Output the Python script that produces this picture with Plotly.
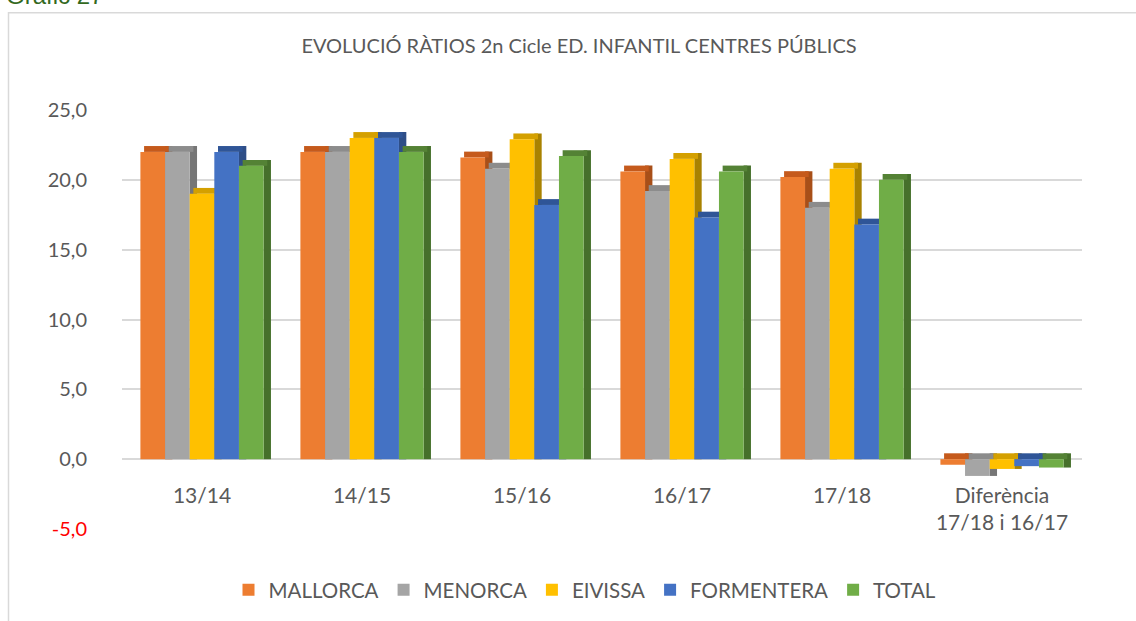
import plotly.graph_objects as go

categories = ["13/14", "14/15", "15/16", "16/17", "17/18", "Diferència<br>17/18 i 16/17"]
series_names = ["MALLORCA", "MENORCA", "EIVISSA", "FORMENTERA", "TOTAL"]
mallorca = [22.0, 22.0, 21.6, 20.6, 20.2, -0.4]
menorca = [22.0, 22.0, 20.8, 19.2, 18.0, -1.2]
eivissa = [19.0, 23.0, 22.9, 21.5, 20.8, -0.7]
formentera = [22.0, 23.0, 18.2, 17.3, 16.8, -0.5]
total = [21.0, 22.0, 21.7, 20.6, 20.0, -0.6]
tick_vals = [-5, 0, 5, 10, 15, 20, 25]
tick_text = ['<span style="color:#FF0000">-5,0</span>', "0,0", "5,0", "10,0", "15,0", "20,0", "25,0"]

series_values = [mallorca, menorca, eivissa, formentera, total]
front_colors = ["#ED7D31", "#A5A5A5", "#FFC000", "#4472C4", "#70AD47"]
top_colors = ["#C55A1C", "#8C8C8C", "#D4A000", "#2F5597", "#548235"]
side_colors = ["#A84F18", "#767676", "#A98200", "#2E4E87", "#46702B"]

W, H = 1136, 621
ml, mr, mt, mb = 122, 54, 110, 91
pw, ph = W - ml - mr, H - mt - mb

bar_w = 0.154
start = -0.385
dx = 0.046   # depth in category units
dy = 0.42    # depth in value units

fig = go.Figure()
for i, (name, vals) in enumerate(zip(series_names, series_values)):
    off = start + i * bar_w
    lows = [min(v, 0) for v in vals]
    highs = [max(v, 0) for v in vals]
    # side face
    fig.add_trace(go.Bar(
        x=categories, y=[h - l + dy for h, l in zip(highs, lows)], base=lows,
        offset=off + bar_w, width=dx, marker=dict(color=side_colors[i], line=dict(width=0)),
        showlegend=False, hoverinfo="skip"))
    # top face
    fig.add_trace(go.Bar(
        x=categories, y=[dy] * len(vals), base=highs,
        offset=off + dx / 2, width=bar_w, marker=dict(color=top_colors[i], line=dict(width=0)),
        showlegend=False, hoverinfo="skip"))
    # front face
    fig.add_trace(go.Bar(
        x=categories, y=[h - l for h, l in zip(highs, lows)], base=lows,
        offset=off, width=bar_w, name=name,
        marker=dict(color=front_colors[i], line=dict(width=0))))

def px_to_paper_x(p):
    return (p - ml) / pw

def px_to_paper_y(p):
    return (H - mb - p) / ph

fig.update_layout(
    width=W, height=H,
    margin=dict(l=ml, r=mr, t=mt, b=mb),
    barmode="overlay",
    paper_bgcolor="white", plot_bgcolor="white",
    font=dict(family="Lato", color="#595959", size=20),
    title=dict(text="EVOLUCIÓ RÀTIOS 2n Cicle ED. INFANTIL CENTRES PÚBLICS",
               x=579 / W, xanchor="center", y=(H - 46) / H, yanchor="middle",
               font=dict(family="Lato", size=20, color="#595959")),
    xaxis=dict(anchor="free", position=0.115, showline=False, ticks="",
               showgrid=False, zeroline=False, tickfont=dict(size=21, color="#595959")),
    yaxis=dict(range=[-5, 25], tickvals=tick_vals, ticktext=tick_text,
               showgrid=True, gridcolor="#D9D9D9", gridwidth=1.5,
               zeroline=True, zerolinecolor="#D9D9D9", zerolinewidth=1.5,
               showline=False, ticks="", ticklabelstandoff=34,
               tickfont=dict(size=20, color="#595959")),
    legend=dict(orientation="h", x=px_to_paper_x(585), xanchor="center",
                y=px_to_paper_y(590), yanchor="middle",
                font=dict(size=20.5, color="#595959"), traceorder="normal"),
    showlegend=True,
)

# chart frame
fig.add_shape(type="rect", xref="paper", yref="paper",
              x0=px_to_paper_x(8.5), x1=px_to_paper_x(1200),
              y0=px_to_paper_y(700), y1=px_to_paper_y(12.5),
              line=dict(color="#D9D9D9", width=1.5), fillcolor="rgba(0,0,0,0)", layer="below")

fig.add_annotation(text="Gràfic 27", xref="paper", yref="paper",
                   x=px_to_paper_x(4), xanchor="left",
                   y=px_to_paper_y(11), yanchor="bottom", showarrow=False,
                   font=dict(family="Liberation Sans", size=24, color="#33691E"))

fig.write_html("out.html",
               config={"displayModeBar": False},
               post_script="document.body.style.margin='0';document.body.style.overflow='hidden';")
